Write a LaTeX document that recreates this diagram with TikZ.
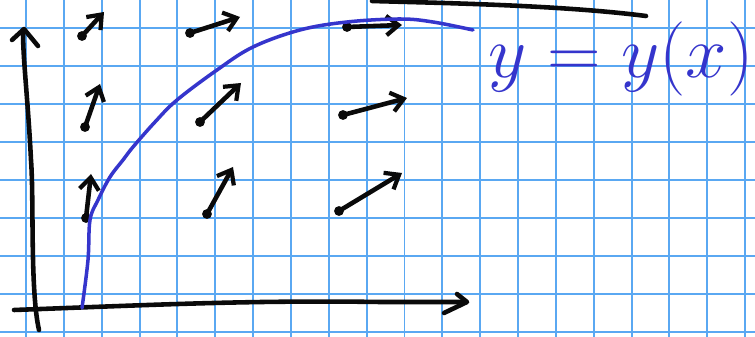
\documentclass[tikz,border=0pt]{standalone}
\usepackage{tikz}
\usetikzlibrary{arrows.meta}
\definecolor{GridBlue}{HTML}{5AA8F2}
\definecolor{InkBlue}{HTML}{3535CC}
\definecolor{InkBlack}{HTML}{0A0A0A}

\begin{document}
\begin{tikzpicture}[x=0.02cm, y=-0.02cm,
    gridline/.style={GridBlue, line width=1.1pt},
    inkline/.style={InkBlack, line width=2.6pt, line cap=round, line join=round},
    fieldarrow/.style={inkline, -{Straight Barb[length=7pt, width=11pt, line width=2.4pt]}},
    curveline/.style={InkBlue, line width=2pt, line cap=round}]
    \useasboundingbox (0,0) rectangle (755,337);
    \fill[white] (0,0) rectangle (755,337);

    % Grid paper
    \foreach \k in {0,...,19}
        \draw[gridline] ({26+37.85*\k},0) -- ({26+37.85*\k},337);
    \foreach \k in {0,...,8}
        \draw[gridline] (0,{27.7+38*\k}) -- (755,{27.7+38*\k});

    % Axes
    \coordinate (yfoot) at (39,330);
    \coordinate (ytop) at (23,32);
    \coordinate (xstart) at (14,310);
    \coordinate (xend) at (466,302);
    \draw[inkline] (yfoot) .. controls (30,290) and (34,200) .. (31,160) .. controls (28,100) and (23,60) .. (ytop);
    \draw[inkline] (12,40) -- (24,29) -- (38,46);
    \draw[inkline] (xstart) .. controls (150,305) and (250,300) .. (380,302) -- (xend);
    \draw[inkline] (457,294) -- (467,302) -- (444,313);

    % Line along the top
    \draw[inkline] (372,1) .. controls (440,3) and (560,5) .. (646,16);

    % Direction field
    \foreach \nm/\dx/\dy/\tx/\ty in {a/82/36/104/12, b/190/33/240/17, c/347/27/402/25,
                                     d/85/127/100/84, e/200/122/241/83, f/343/115/407/98,
                                     g/86/218/91/174, h/207/214/233/167, i/339/211/402/173} {
        \coordinate (dot\nm) at (\dx,\dy);
        \coordinate (tip\nm) at (\tx,\ty);
        \draw[fieldarrow] (dot\nm) -- (tip\nm);
        \fill[InkBlack] (dot\nm) circle (2.8pt);
    }

    % Solution curve
    \draw[curveline] plot[smooth, tension=0.6] coordinates {(82,308) (88,260) (90,220) (98,200)
        (110,177) (123,160) (133,147) (155,122) (177,100) (217,70) (253,47) (300,30)
        (347,22) (400,19) (433,22) (473,30)};

    % Label
    \node[InkBlue, anchor=base west, inner sep=0pt, font=\Huge, scale=1.7] (label) at (488,78) {$y = y(x)$};

\end{tikzpicture}
\end{document}
